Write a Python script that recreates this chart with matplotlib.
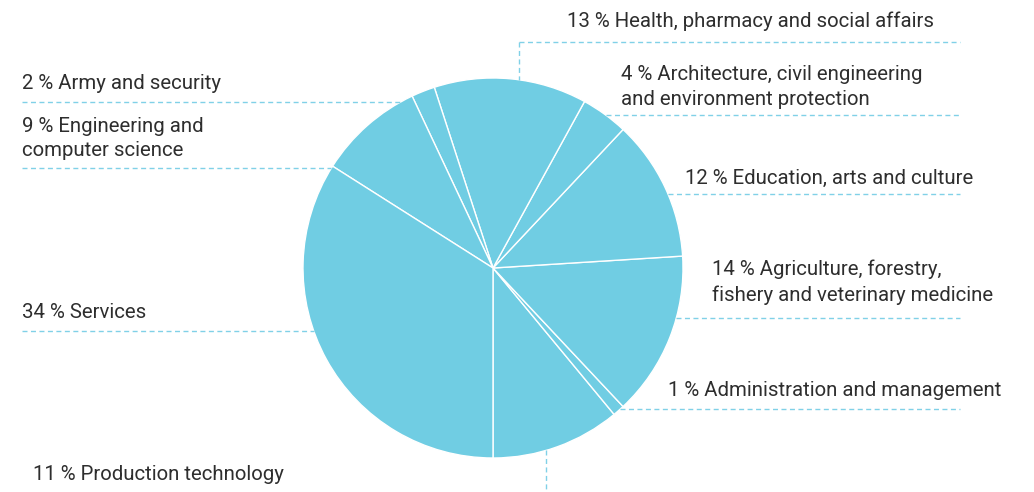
import numpy as np
import matplotlib.pyplot as plt

plt.rcParams['font.family'] = ['Roboto', 'DejaVu Sans']

# share of graduates by field (percent), drawn counter-clockwise from 6 o'clock
categories = [
    'Production technology',
    'Administration and management',
    'Agriculture, forestry,\nfishery and veterinary medicine',
    'Education, arts and culture',
    'Architecture, civil engineering\nand environment protection',
    'Health, pharmacy and social affairs',
    'Army and security',
    'Engineering and\ncomputer science',
    'Services',
]
shares = [11, 1, 14, 12, 4, 13, 2, 9, 34]

W, H = 1034, 492
PIE = '#70cde3'
DASH = '#80d1e7'
TXT = '#2e2e2e'

cx, cy, r = 493, 268, 190          # pie centre / radius, pixel units from top-left

fig = plt.figure(figsize=(W / 100, H / 100), dpi=100)
ax = fig.add_axes([0, 0, 1, 1])

ax.pie(shares, startangle=270, counterclock=True, center=(cx, H - cy), radius=r,
       colors=[PIE] * len(shares), frame=True,
       wedgeprops=dict(edgecolor='white', linewidth=1.0))
ax.set_xlim(0, W)
ax.set_ylim(0, H)
ax.set_aspect('equal')
ax.axis('off')


def dashed(x0, y0, x1, y1):
    ax.plot([x0, x1], [H - y0, H - y1], color=DASH, lw=1.0,
            dashes=(3.6, 2.5), solid_capstyle='butt', zorder=1)


def edge_x(y, side):
    # where a horizontal line at height y meets the circle
    return cx + side * np.sqrt(r ** 2 - (y - cy) ** 2)


def edge_y(x, side):
    return cy + side * np.sqrt(r ** 2 - (x - cx) ** 2)


# label layout: (text x, text centre y, leader kind, leader position)
layout = {
    'Army and security': (22, 83.5, 'left', 102),
    'Engineering and\ncomputer science': (22, 138.5, 'left', 168),
    'Services': (22, 312.5, 'left', 331),
    'Architecture, civil engineering\nand environment protection': (621, 87, 'right', 115),
    'Education, arts and culture': (685, 178.5, 'right', 194),
    'Agriculture, forestry,\nfishery and veterinary medicine': (712, 282, 'right', 318),
    'Administration and management': (668, 390.5, 'right', 409),
    'Health, pharmacy and social affairs': (567, 21.5, 'top', 519),
    'Production technology': (33, 474.5, 'bottom', 546),
}

x_left, x_right, y_top = 22, 960, 42

for name, pct in zip(categories, shares):
    tx, ty, kind, pos = layout[name]
    ax.text(tx, H - ty, f'{pct} % {name}', ha='left', va='center',
            fontsize=14.7, color=TXT, linespacing=1.4)
    if kind == 'left':
        dashed(x_left, pos, edge_x(pos, -1), pos)
    elif kind == 'right':
        dashed(edge_x(pos, 1), pos, x_right, pos)
    elif kind == 'top':
        dashed(pos, y_top, x_right, y_top)
        dashed(pos, y_top, pos, edge_y(pos, -1))
    else:
        dashed(pos, edge_y(pos, 1), pos, H)

fig.savefig('out.png', dpi=100)
